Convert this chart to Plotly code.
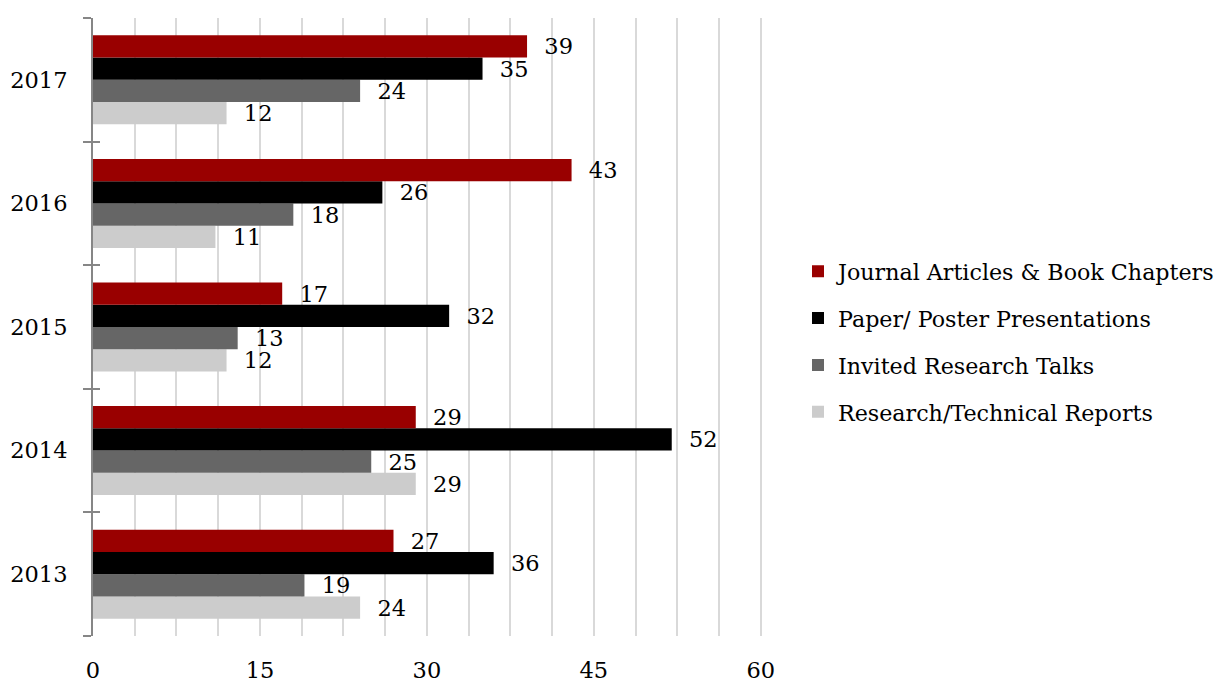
import plotly.graph_objects as go

years = ["2013", "2014", "2015", "2016", "2017"]
journal = [27, 29, 17, 43, 39]
paper = [36, 52, 32, 26, 35]
invited = [19, 25, 13, 18, 24]
reports = [24, 29, 12, 11, 12]

# drawn bottom-to-top inside each group; legend rank gives the legend order
series = [
    ("Research/Technical Reports", reports, "#cccccc", 4),
    ("Invited Research Talks", invited, "#666666", 3),
    ("Paper/ Poster Presentations", paper, "#000000", 2),
    ("Journal Articles & Book Chapters", journal, "#990000", 1),
]

FONT = "DejaVu Serif"
FS = 22.5
LEG_FS = 22.2

W, H = 1215, 682
L, R, T, B = 93, 2, 18, 46
plot_right = 763
dom_end = (plot_right - L) / (W - L - R)
yrange = [-0.5, len(years) - 0.5]

fig = go.Figure()
for name, vals, color, rank in series:
    fig.add_trace(go.Bar(
        y=years, x=vals, name=name, orientation="h",
        marker=dict(color=color, line=dict(width=0)),
        text=vals, texttemplate="  %{x}", textposition="outside",
        textfont=dict(family=FONT, size=FS, color="#000000"),
        constraintext="none", cliponaxis=False,
        legendgroup=name, legendrank=rank,
    ))

# helper trace so the overlaid axis (inner half of the crossing ticks) is drawn
fig.add_trace(go.Scatter(
    y=years, x=[0] * len(years), yaxis="y2", mode="markers",
    marker=dict(opacity=0), showlegend=False, hoverinfo="skip",
))

fig.update_layout(
    width=W, height=H,
    margin=dict(l=L, r=R, t=T, b=B, autoexpand=False),
    paper_bgcolor="white", plot_bgcolor="white",
    barmode="group", bargap=0.28, bargroupgap=0,
    font=dict(family=FONT, size=FS, color="#000000"),
    legend=dict(
        traceorder="grouped", x=(798 - L) / (W - L - R), y=0.476,
        xanchor="left", yanchor="middle",
        font=dict(family=FONT, size=LEG_FS), tracegroupgap=15,
        bgcolor="rgba(0,0,0,0)",
    ),
    showlegend=True,
    yaxis2=dict(
        overlaying="y", side="left", type="category", anchor="x",
        categoryorder="array", categoryarray=years, range=yrange,
        ticks="inside", tickson="boundaries", ticklen=7, tickcolor="#868686", tickwidth=2,
        showticklabels=False, showline=False, showgrid=False, zeroline=False,
        automargin=False,
    ),
)
fig.update_xaxes(
    domain=[0, dom_end],
    range=[0, 60.2], dtick=15, tick0=0,
    showgrid=True, gridcolor="#d9d9d9", gridwidth=1.5,
    minor=dict(dtick=3.75, showgrid=True, gridcolor="#d9d9d9", gridwidth=1.5),
    zeroline=False, showline=False,
    ticks="outside", ticklen=14, tickcolor="rgba(0,0,0,0)",
    tickfont=dict(family=FONT, size=FS),
    automargin=False,
)
fig.layout.yaxis.update(
    categoryorder="array", categoryarray=years, range=yrange,
    showline=True, linecolor="#868686", linewidth=2,
    ticks="outside", tickson="boundaries", ticklen=8, tickcolor="#868686", tickwidth=2,
    ticklabelstandoff=19,
    showgrid=False, zeroline=False,
    tickfont=dict(family=FONT, size=FS),
    automargin=False,
)

fig.write_html(
    "out.html",
    config={"displayModeBar": False},
    post_script="document.body.style.margin='0';document.body.style.overflow='hidden';",
)
